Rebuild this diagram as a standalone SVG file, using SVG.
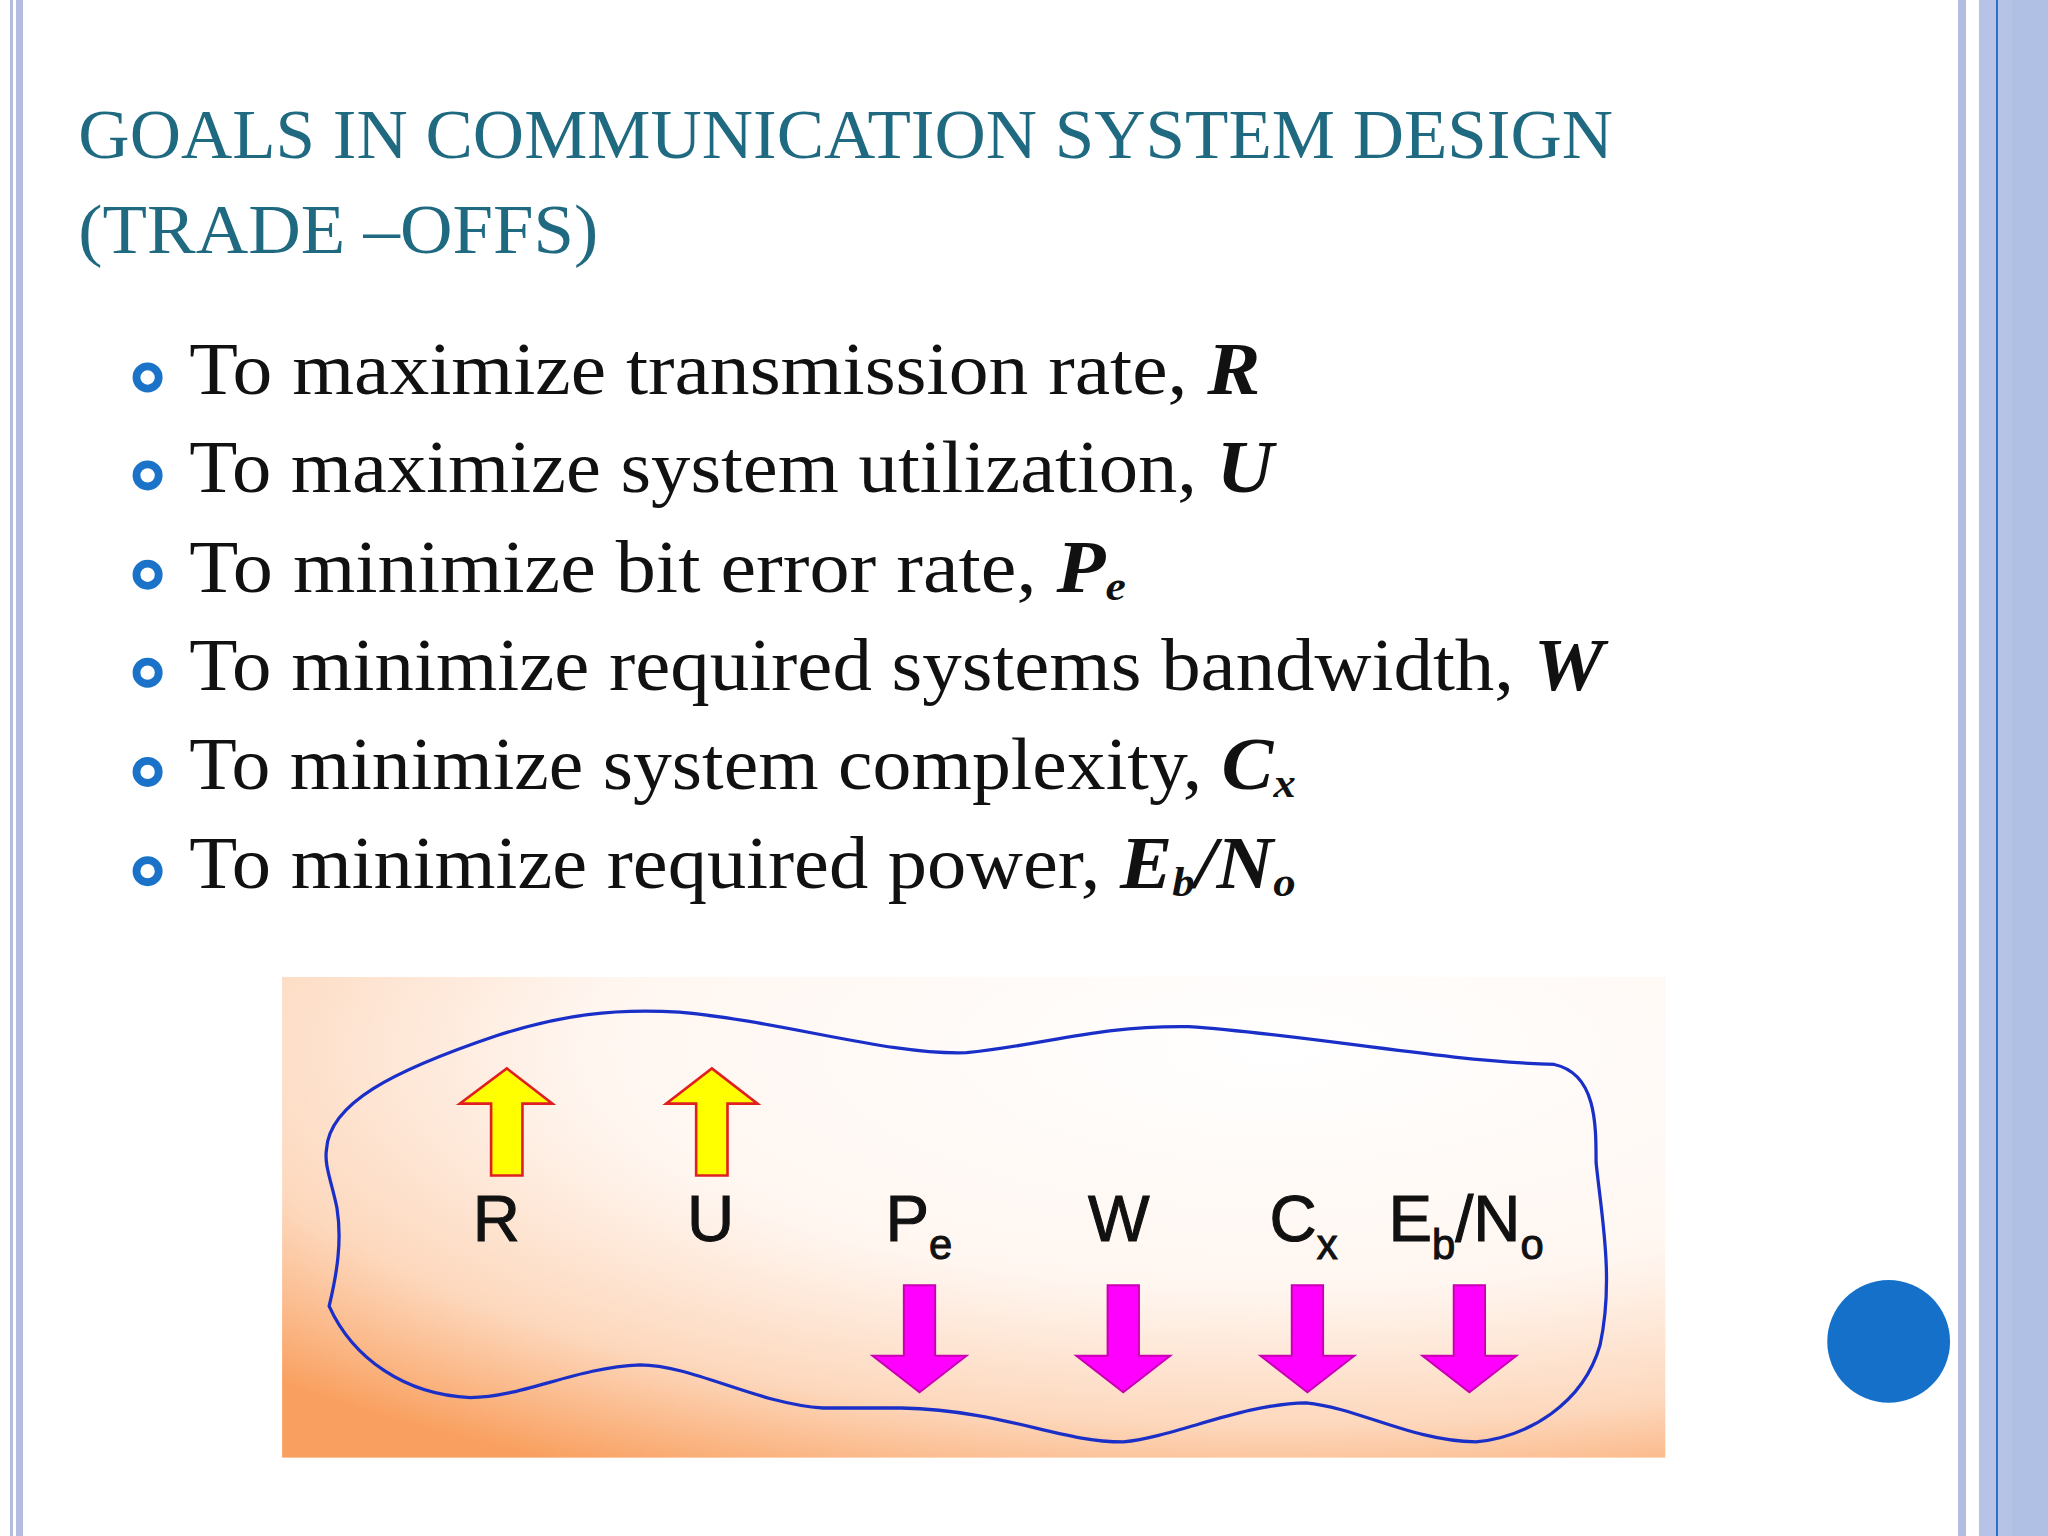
<svg xmlns="http://www.w3.org/2000/svg" width="2048" height="1536" viewBox="0 0 2048 1536">
<defs>
<style>
.t{font-family:"Liberation Serif",serif;fill:#1f6a80;font-size:54px}
.b{font-family:"Liberation Serif",serif;fill:#111;font-size:56px}
.v{font-weight:bold;font-style:italic}
.l{font-family:"Liberation Sans",Arial,sans-serif;font-size:50px;fill:#111;stroke:#111;stroke-width:0.8}
.s{font-size:32px}
.up{fill:#ffff00;stroke:#e02020;stroke-width:2}
.dn{fill:#ff00ff;stroke:#c800b0;stroke-width:1.5}
.bul{fill:none;stroke:#1a73c8;stroke-width:6}
</style>
<radialGradient id="bg" cx="0.72" cy="0.15" r="1.0" gradientUnits="objectBoundingBox">
<stop offset="0" stop-color="#ffffff"/><stop offset="0.5" stop-color="#fff6f0"/><stop offset="0.78" stop-color="#fdd8bd"/><stop offset="1" stop-color="#f9a060"/>
</radialGradient>
</defs>
<rect width="2048" height="1536" fill="#fff"/>
<rect x="10" y="0" width="3" height="1536" fill="#b4bde0"/>
<rect x="16" y="0" width="7" height="1536" fill="#b4bde0"/>
<rect x="1958" y="0" width="8" height="1536" fill="#b4bde0"/>
<rect x="1979" y="0" width="69" height="1536" fill="#b6c3e6"/>
<rect x="2012" y="0" width="36" height="1536" fill="#afc0e4"/>
<rect x="1996" y="0" width="2" height="1536" fill="#2a70c8"/>
<g transform="scale(1.30612)">
<g id="title">
<text class="t" x="60" y="121" textLength="1175" lengthAdjust="spacingAndGlyphs">GOALS IN COMMUNICATION SYSTEM DESIGN</text>
<text class="t" x="60" y="194" textLength="398" lengthAdjust="spacingAndGlyphs">(TRADE –OFFS)</text>
</g>
<g id="bullets">
<circle class="bul" cx="113" cy="289" r="8.5"/><circle class="bul" cx="113" cy="364" r="8.5"/><circle class="bul" cx="113" cy="440" r="8.5"/>
<circle class="bul" cx="113" cy="515" r="8.5"/><circle class="bul" cx="113" cy="591" r="8.5"/><circle class="bul" cx="113" cy="667" r="8.5"/>
<text class="b" x="145" y="302" textLength="820" lengthAdjust="spacingAndGlyphs">To maximize transmission rate, <tspan class="v">R</tspan></text>
<text class="b" x="145" y="377" textLength="830" lengthAdjust="spacingAndGlyphs">To maximize system utilization, <tspan class="v">U</tspan></text>
<text class="b" x="145" y="453" textLength="717" lengthAdjust="spacingAndGlyphs">To minimize bit error rate, <tspan class="v">P</tspan><tspan class="v s" dy="6">e</tspan></text>
<text class="b" x="145" y="528" textLength="1083" lengthAdjust="spacingAndGlyphs">To minimize required systems bandwidth, <tspan class="v">W</tspan></text>
<text class="b" x="145" y="604" textLength="847" lengthAdjust="spacingAndGlyphs">To minimize system complexity, <tspan class="v">C</tspan><tspan class="v s" dy="6">x</tspan></text>
<text class="b" x="145" y="680" textLength="847" lengthAdjust="spacingAndGlyphs">To minimize required power, <tspan class="v">E</tspan><tspan class="v s" dy="6">b</tspan><tspan class="v" dy="-6">/N</tspan><tspan class="v s" dy="6">o</tspan></text>
</g>
<g id="picture">
<rect x="216" y="748" width="1059" height="368" fill="url(#bg)"/>
<path d="M250,880 C252,845 300,820 380,793 C430,777 470,772 520,775 C600,782 680,808 740,806 C800,800 840,785 910,786 C1000,792 1100,812 1190,815 C1222,822 1222,860 1222,890 C1226,930 1236,980 1225,1030 C1212,1075 1170,1100 1130,1104 C1080,1103 1040,1078 1000,1074 C950,1075 900,1100 860,1104 C810,1104 770,1080 690,1078 L630,1078 C580,1075 530,1045 490,1045 C440,1047 400,1070 360,1070 C310,1068 270,1040 252,1000 C258,975 262,950 258,925 C254,905 248,892 250,880 Z" fill="none" stroke="#1a2fc8" stroke-width="2.5"/>
<g id="arrows">
<path class="up" d="M388,818 L423,845 L400,845 L400,900 L376,900 L376,845 L352,845 Z"/>
<path class="up" d="M545,818 L580,845 L557,845 L557,900 L533,900 L533,845 L510,845 Z"/>
<path class="dn" d="M692,984 L716,984 L716,1038 L740,1038 L704,1066 L668,1038 L692,1038 Z"/>
<path class="dn" d="M848,984 L872,984 L872,1038 L896,1038 L860,1066 L824,1038 L848,1038 Z"/>
<path class="dn" d="M989,984 L1013,984 L1013,1038 L1037,1038 L1001,1066 L965,1038 L989,1038 Z"/>
<path class="dn" d="M1113,984 L1137,984 L1137,1038 L1161,1038 L1125,1066 L1089,1038 L1113,1038 Z"/>
</g>
<g id="labels">
<text class="l" x="362" y="950">R</text>
<text class="l" x="526" y="950">U</text>
<text class="l" x="678" y="950">P<tspan class="s" dy="14">e</tspan></text>
<text class="l" x="833" y="950">W</text>
<text class="l" x="972" y="950">C<tspan class="s" dy="14">x</tspan></text>
<text class="l" x="1063" y="950">E<tspan class="s" dy="14">b</tspan><tspan dy="-14">/N</tspan><tspan class="s" dy="14">o</tspan></text>
</g>
</g>
<circle cx="1446" cy="1027" r="47" fill="#1470c8"/>
</g>
</svg>
